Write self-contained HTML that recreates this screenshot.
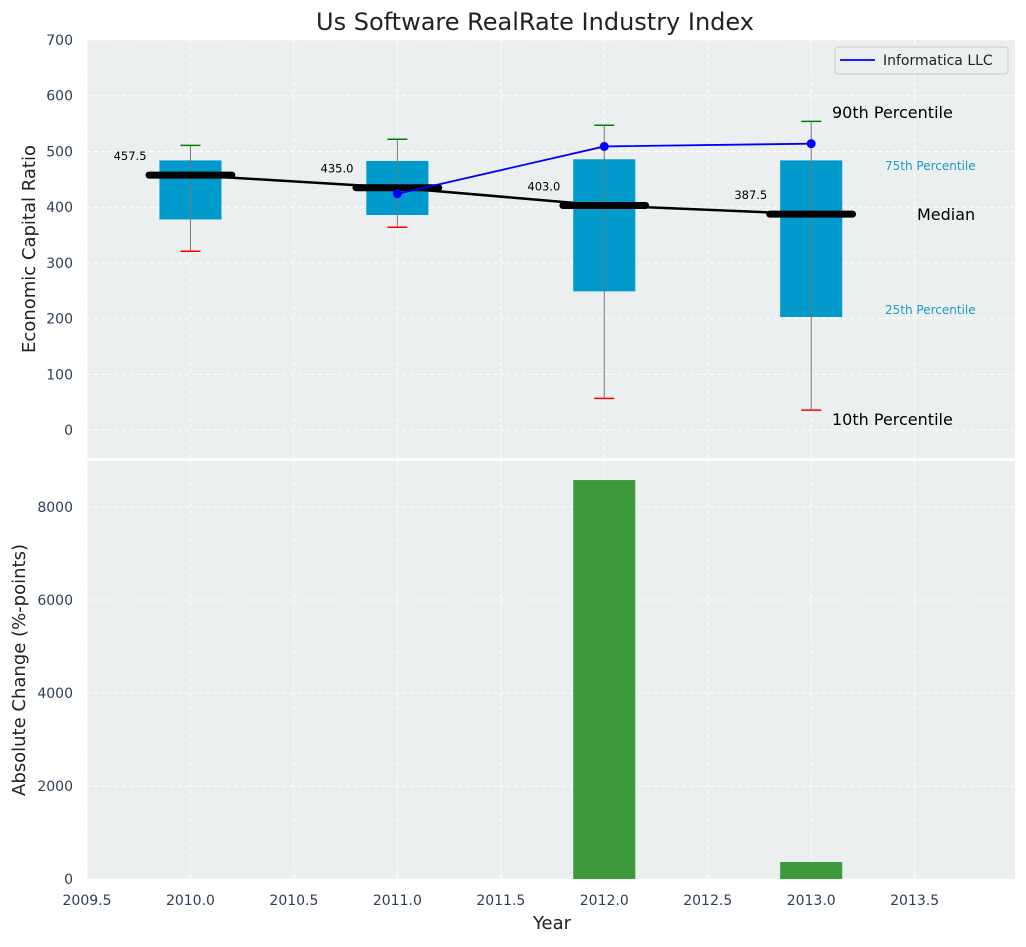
<!DOCTYPE html>
<html><head><meta charset="utf-8"><style>
body{margin:0;background:#fff;font-family:"Liberation Sans","DejaVu Sans",sans-serif}
svg text{font-family:"DejaVu Sans","Liberation Sans",sans-serif}
</style></head><body>
<svg id="c" width="1026" height="942" xmlns="http://www.w3.org/2000/svg"></svg>
<script>
const years=[2010,2011,2012,2013];
const q1=[378,386,249,203];
const q3=[484,483,486,484];
const p10=[321,364,57,36];
const p90=[511,522,547,554];
const medians=[457.5,435.0,403.0,387.5];
const infoYears=[2011,2012,2013];
const infoVals=[424,509,514];
const changeYears=[2012,2013];
const changeVals=[8580,365];
const xTicks=[2009.5,2010.0,2010.5,2011.0,2011.5,2012.0,2012.5,2013.0,2013.5];
const yTopTicks=[0,100,200,300,400,500,600,700];
const yBotTicks=[0,2000,4000,6000,8000];

const NS="http://www.w3.org/2000/svg";
const svg=document.getElementById('c');
function el(t,a,txt){const e=document.createElementNS(NS,t);for(const k in a)e.setAttribute(k,a[k]);if(txt!==undefined)e.textContent=txt;svg.appendChild(e);return e;}
const L=87,R=1015,T1=40,B1=458,T2=461,B2=879;
const X=v=>L+(v-2009.5)*(R-L)/(2013.985-2009.5);
const Y1=v=>T1+(700-v)*(B1-T1)/750;
const Y2=v=>B2-v*(B2-T2)/8990;
const bw=X(2010.15)-X(2009.85);

let e;
e=el('rect',{x:L,y:T1,width:R-L,height:B1-T1,fill:'#eceff0'});

e=el('rect',{x:L,y:T2,width:R-L,height:B2-T2,fill:'#eceff0'});

xTicks.forEach(t=>{
 [[T1,B1],[T2,B2]].forEach(([a,b])=>{e=el('line',{x1:X(t),x2:X(t),y1:a,y2:b,stroke:'#fff','stroke-dasharray':'4,3','stroke-width':1});});
 e=el('text',{x:X(t),y:905,'text-anchor':'middle','font-size':14,fill:'#2e3f55'},t.toFixed(1));
 
});
yTopTicks.forEach(t=>{
 e=el('line',{x1:L,x2:R,y1:Y1(t),y2:Y1(t),stroke:'#fff','stroke-dasharray':'4,3'});
 e=el('text',{x:73,y:Y1(t)+5,'text-anchor':'end','font-size':14,fill:'#2e3f55'},t);
 
});
yBotTicks.forEach(t=>{
 e=el('line',{x1:L,x2:R,y1:Y2(t),y2:Y2(t),stroke:'#fff','stroke-dasharray':'4,3'});
 e=el('text',{x:73,y:Y2(t)+5,'text-anchor':'end','font-size':14,fill:'#2e3f55'},t);
 
});
years.forEach((y,i)=>{
 e=el('rect',{x:X(y)-bw/2,y:Y1(q3[i]),width:bw,height:Y1(q1[i])-Y1(q3[i]),fill:'#009bcc'});
 
 e=el('line',{x1:X(y),x2:X(y),y1:Y1(p90[i]),y2:Y1(p10[i]),stroke:'#777','stroke-width':1});
 
 e=el('line',{x1:X(y)-10,x2:X(y)+10,y1:Y1(p90[i]),y2:Y1(p90[i]),stroke:'green','stroke-width':1.5});
 
 e=el('line',{x1:X(y)-10,x2:X(y)+10,y1:Y1(p10[i]),y2:Y1(p10[i]),stroke:'red','stroke-width':1.5});
 
});
e=el('polyline',{points:years.map((y,i)=>X(y)+','+Y1(medians[i])).join(' '),fill:'none',stroke:'#000','stroke-width':2.5});

years.forEach((y,i)=>{
 e=el('line',{x1:X(y-0.2),x2:X(y+0.2),y1:Y1(medians[i]),y2:Y1(medians[i]),stroke:'#000','stroke-width':7,'stroke-linecap':'round'});
 
 e=el('text',{x:X(y-0.2)-19,y:Y1(medians[i])-15,'text-anchor':'middle','font-size':11.5,fill:'#000'},medians[i].toFixed(1));
 
});
e=el('polyline',{points:infoYears.map((y,i)=>X(y)+','+Y1(infoVals[i])).join(' '),fill:'none',stroke:'blue','stroke-width':1.8});

infoYears.forEach((y,i)=>{e=el('circle',{cx:X(y),cy:Y1(infoVals[i]),r:4.5,fill:'blue'});});
const ann=[['90th Percentile',832,118,16,'#000'],['75th Percentile',885,170,12,'#1a9bc4'],['Median',917,220,16,'#000'],['25th Percentile',885,314,12,'#1a9bc4'],['10th Percentile',832,425,16,'#000']];
ann.forEach(a=>{e=el('text',{x:a[1],y:a[2],'font-size':a[3],fill:a[4]},a[0]);});
e=el('rect',{x:835,y:47,width:173,height:27,rx:3,fill:'#eceff0',stroke:'#ccc'});

el('line',{x1:840,x2:875,y1:60,y2:60,stroke:'blue','stroke-width':1.8});
e=el('text',{x:883,y:65,'font-size':14,fill:'#222'},'Informatica LLC');

changeYears.forEach((y,i)=>{
 e=el('rect',{x:X(y)-bw/2,y:Y2(changeVals[i]),width:bw,height:Y2(0)-Y2(changeVals[i]),fill:'#3c9a3c'});
 
});
e=el('text',{x:535,y:30,'text-anchor':'middle','font-size':24,fill:'#222'},'Us Software RealRate Industry Index');

e=el('text',{x:552,y:929,'text-anchor':'middle','font-size':18,fill:'#222'},'Year');

e=el('text',{x:35,y:249,'text-anchor':'middle','font-size':18,fill:'#222',transform:'rotate(-90 35 249)'},'Economic Capital Ratio');

e=el('text',{x:25,y:670,'text-anchor':'middle','font-size':18,fill:'#222',transform:'rotate(-90 25 670)'},'Absolute Change (%-points)');

</script>
</body></html>
